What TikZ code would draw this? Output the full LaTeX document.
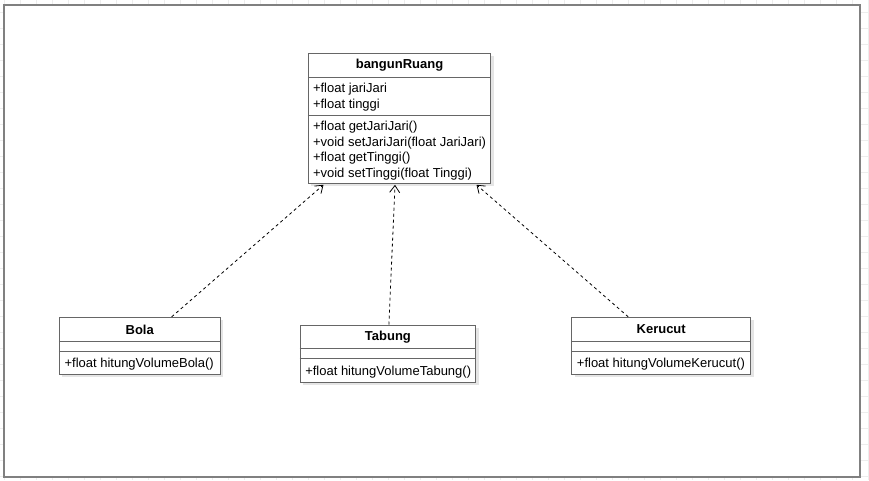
\documentclass[tikz,border=0pt]{standalone}
\usepackage{fontspec}
\setmainfont{Liberation Sans}
\usetikzlibrary{arrows.meta,shadows}
\tikzset{
  gridline/.style={black!7,line width=0.8pt},
  sheet/.style={draw=black!50,line width=2pt,fill=white},
  umlbox/.style={draw=black!60,line width=1pt,fill=white,inner sep=0pt,
    drop shadow={shadow xshift=3pt,shadow yshift=-3pt,fill=black!10,opacity=1}},
  umlline/.style={black!60,line width=1pt},
  umltitle/.style={inner sep=0pt,font=\fontsize{13}{15}\selectfont\bfseries},
  umltext/.style={anchor=base west,inner sep=0pt,font=\fontsize{13}{15}\selectfont},
  dep/.style={line width=0.8pt,dash pattern=on 3pt off 3pt,-{Straight Barb[length=7pt,width=10pt]}}
}
\begin{document}
\begin{tikzpicture}[x=1pt,y=-1pt]
\useasboundingbox (0,0) rectangle (869,480);
% background grid and sheet
\foreach \gx in {4,20,...,868} \draw[gridline] (\gx,0) -- (\gx,480);
\foreach \gy in {12.7,28.7,...,480} \draw[gridline] (0,\gy) -- (869,\gy);
\draw[sheet] (4,5) rectangle (860,477);
% classes
\node[umlbox,minimum width=182.4pt,minimum height=130pt] (ruang) at (399.5,118.3) {};
\node[umlbox,minimum width=160.7pt,minimum height=57pt] (bola) at (139.7,345.8) {};
\node[umlbox,minimum width=175.7pt,minimum height=57pt] (tabung) at (387.9,353.5) {};
\node[umlbox,minimum width=179pt,minimum height=57pt] (kerucut) at (661.2,345.8) {};
% compartments
\draw[umlline] ([yshift=-24.4pt]ruang.north west) -- ([yshift=-24.4pt]ruang.north east);
\draw[umlline] ([yshift=-62.4pt]ruang.north west) -- ([yshift=-62.4pt]ruang.north east);
\foreach \n in {bola,tabung,kerucut}{
  \draw[umlline] ([yshift=-24.4pt]\n.north west) -- ([yshift=-24.4pt]\n.north east);
  \draw[umlline] ([yshift=-34.4pt]\n.north west) -- ([yshift=-34.4pt]\n.north east);
}
% texts
\node[umltitle] (ruangname) at ([yshift=-12.7pt]ruang.north) {bangunRuang};
\node[umltext] (ruanga1) at ([xshift=5pt,yshift=-40pt]ruang.north west) {+float jariJari};
\node[umltext] (ruanga2) at ([xshift=5pt,yshift=-56pt]ruang.north west) {+float tinggi};
\foreach \txt [count=\i] in {{+float getJariJari()},{+void setJariJari(float JariJari)},{+float getTinggi()},{+void setTinggi(float Tinggi)}}
  \node[umltext] (ruangm\i) at ([xshift=5pt,yshift={-77.7pt-15.7pt*(\i-1)}]ruang.north west) {\txt};
\node[umltitle] (bolaname) at ([yshift=-12.7pt]bola.north) {Bola};
\node[umltext] (bolam) at ([xshift=5.5pt,yshift=-51pt]bola.north west) {+float hitungVolumeBola()};
\node[umltitle] (tabungname) at ([yshift=-12.7pt]tabung.north) {Tabung};
\node[umltext] (tabungm) at ([xshift=5.5pt,yshift=-51pt]tabung.north west) {+float hitungVolumeTabung()};
\node[umltitle] (kerucutname) at ([yshift=-12.7pt]kerucut.north) {Kerucut};
\node[umltext] (kerucutm) at ([xshift=5.5pt,yshift=-51pt]kerucut.north west) {+float hitungVolumeKerucut()};
% dependencies
\draw[dep] ([xshift=32pt]bola.north) -- ([xshift=-76pt,yshift=-1pt]ruang.south);
\draw[dep] ([xshift=1pt]tabung.north) -- ([xshift=-4.5pt,yshift=-1pt]ruang.south);
\draw[dep] ([xshift=-33pt]kerucut.north) -- ([xshift=77pt,yshift=-1pt]ruang.south);
\end{tikzpicture}
\end{document}
